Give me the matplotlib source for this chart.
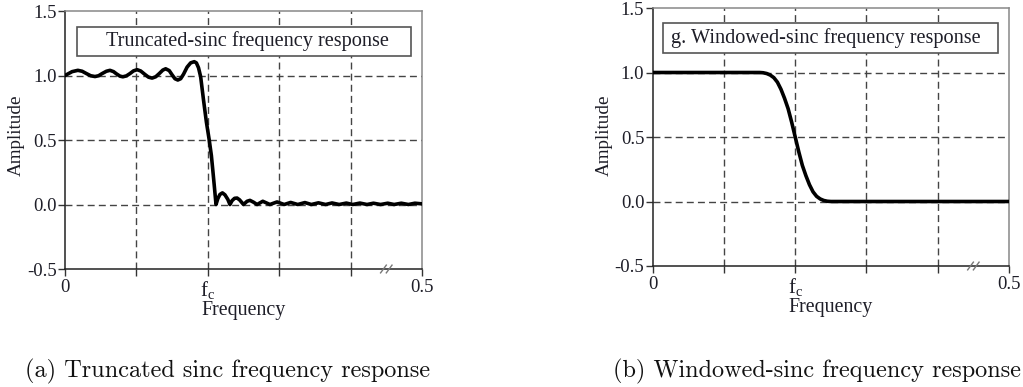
import matplotlib
matplotlib.use("Agg")
import matplotlib.pyplot as plt
from matplotlib.patches import Rectangle

# ---------------- data ----------------
trunc_freq = [0.000, 0.005, 0.010, 0.018, 0.024, 0.030, 0.036, 0.042, 0.047, 0.052,
              0.058, 0.063, 0.068, 0.072, 0.077, 0.081, 0.086, 0.091, 0.096, 0.101,
              0.106, 0.112, 0.117, 0.122, 0.127, 0.132, 0.137, 0.141, 0.146, 0.150,
              0.154, 0.158, 0.162, 0.166, 0.171, 0.176, 0.181, 0.184, 0.187, 0.190,
              0.192, 0.194, 0.198, 0.202, 0.205, 0.207, 0.209, 0.2115,
              0.214, 0.217, 0.2205, 0.224, 0.228, 0.231, 0.234, 0.2375, 0.241, 0.2445,
              0.250, 0.255, 0.259, 0.264, 0.269, 0.277, 0.287, 0.297, 0.307, 0.316,
              0.326, 0.336, 0.345, 0.355, 0.365, 0.374, 0.384, 0.394, 0.403, 0.413,
              0.423, 0.432, 0.442, 0.452, 0.461, 0.471, 0.481, 0.490, 0.500]
trunc_amp = [1.000, 1.015, 1.030, 1.040, 1.033, 1.015, 0.998, 0.992, 0.998, 1.015,
             1.033, 1.040, 1.030, 1.013, 0.995, 0.990, 0.997, 1.015, 1.036, 1.045,
             1.035, 1.008, 0.987, 0.980, 0.990, 1.015, 1.042, 1.052, 1.038, 1.005,
             0.975, 0.965, 0.975, 1.010, 1.065, 1.098, 1.107, 1.098, 1.060, 0.990,
             0.900, 0.810, 0.640, 0.500, 0.380, 0.267, 0.150, 0.000,
             0.045, 0.078, 0.090, 0.075, 0.040, 0.000, 0.030, 0.048, 0.050, 0.036,
             0.000, 0.025, 0.032, 0.018, 0.000, 0.025, 0.000, 0.020, 0.000, 0.016,
             0.000, 0.015, 0.000, 0.013, 0.000, 0.012, 0.000, 0.011, 0.000, 0.011,
             0.000, 0.010, 0.000, 0.010, 0.000, 0.010, 0.000, 0.010, 0.005]

wind_freq = [0.000, 0.150, 0.155, 0.160, 0.165, 0.170, 0.175, 0.180, 0.185, 0.190,
             0.195, 0.200, 0.205, 0.210, 0.215, 0.220, 0.225, 0.230, 0.235, 0.240,
             0.245, 0.250, 0.500]
wind_amp = [1.000, 1.000, 0.998, 0.992, 0.980, 0.960, 0.925, 0.870, 0.800, 0.720,
            0.615, 0.500, 0.385, 0.280, 0.200, 0.130, 0.075, 0.040, 0.020, 0.008,
            0.002, 0.000, 0.000]

x_ticks = [0.0, 0.1, 0.2, 0.3, 0.4, 0.5]
x_tick_labels = ["0", "", r"$\mathrm{f_c}$", "", "", "0.5"]
y_ticks = [-0.5, 0.0, 0.5, 1.0, 1.5]
y_tick_labels = ["-0.5", "0.0", "0.5", "1.0", "1.5"]
grid_x = [0.1, 0.2, 0.3, 0.4]
grid_y = [0.0, 0.5, 1.0]

titles = ["Truncated-sinc frequency response", "g. Windowed-sinc frequency response"]
captions = ["(a) Truncated sinc frequency response", "(b) Windowed-sinc frequency response"]

# ---------------- style ----------------
plt.rcParams["font.family"] = ["Liberation Serif", "DejaVu Serif"]
plt.rcParams["mathtext.fontset"] = "custom"
plt.rcParams["mathtext.rm"] = "Liberation Serif"
plt.rcParams["mathtext.it"] = "Liberation Serif:italic"

W, H = 1023, 387
fig = plt.figure(figsize=(W / 100, H / 100), dpi=100)

def px_axes(l, r, t, b):
    return [l / W, 1 - b / H, (r - l) / W, (b - t) / H]

axes_rects = [px_axes(65, 422, 11, 269), px_axes(652.7, 1009, 8, 266)]
box_spans = [(0.0168, 0.4846, 1.151, 1.376), (0.0145, 0.4846, 1.151, 1.384)]
title_x = [0.2556, 0.243]
ylabel_x = [16, 604]

text_col = "#1e1e28"
grid_col = "#444444"

for i, (fx, fy) in enumerate([(trunc_freq, trunc_amp), (wind_freq, wind_amp)]):
    ax = fig.add_axes(axes_rects[i])
    ax.set_xlim(0, 0.5)
    ax.set_ylim(-0.5, 1.5)
    for g in grid_x:
        ax.axvline(g, color=grid_col, lw=1.0, ls=(0, (5, 3)), zorder=1)
    for g in grid_y:
        ax.axhline(g, color=grid_col, lw=1.0, ls=(0, (5, 3)), zorder=1)
    ax.plot(fx, fy, color="black", lw=2.6, solid_joinstyle="round",
            solid_capstyle="round", zorder=3)

    ax.set_xticks(x_ticks)
    ax.set_xticklabels(x_tick_labels, fontsize=13.5, color=text_col)
    ax.get_xticklabels()[2].set_fontsize(15)
    ax.set_yticks(y_ticks)
    ax.set_yticklabels(y_tick_labels, fontsize=13.5, color=text_col)
    ax.tick_params(axis="both", direction="out", length=5, width=1.0,
                   color="#333333", pad=2)
    ax.tick_params(axis="y", pad=1)
    for s in ["left", "bottom"]:
        ax.spines[s].set_color("#222222")
        ax.spines[s].set_linewidth(1.1)
    for s in ["top", "right"]:
        ax.spines[s].set_color("#888888")
        ax.spines[s].set_linewidth(1.1)

    ax.set_xlabel("Frequency", fontsize=14.4, color=text_col, labelpad=0)

    # title box
    x0, x1, y0, y1 = box_spans[i]
    ax.add_patch(Rectangle((x0, y0), x1 - x0, y1 - y0, facecolor="white",
                           edgecolor="#555555", lw=1.2, zorder=4))
    ax.text(title_x[i], (y0 + y1) / 2, titles[i], ha="center", va="center",
            fontsize=14.6, color=text_col, zorder=5)

    # axis break mark
    for dx in (-0.004, 0.004):
        ax.plot([0.446 + dx, 0.454 + dx], [-0.53, -0.47], color="#777777",
                lw=1.0, clip_on=False, zorder=6)

    fig.text(ylabel_x[i] / W, 1 - 135 / H, "Amplitude", rotation=90,
             ha="center", va="center", fontsize=13.8, color=text_col)

# captions
cap_x = [25, 613]
for i in range(2):
    fig.text(cap_x[i] / W, 1 - 377 / H, captions[i], ha="left", va="baseline",
             fontsize=17.5, family=["cmr10", "DejaVu Serif"], color="#111111")

fig.savefig("out.png", dpi=100)
